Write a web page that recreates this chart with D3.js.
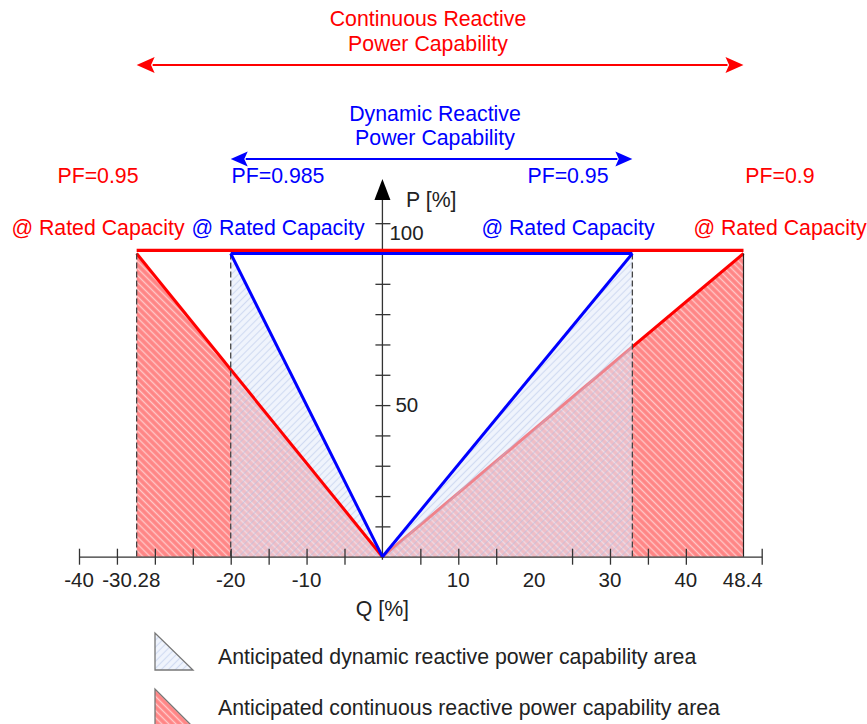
<!DOCTYPE html>
<html><head><meta charset="utf-8">
<script src="https://cdn.jsdelivr.net/npm/d3@7"></script>
<style>body{margin:0;background:#fff} text{font-family:"Liberation Sans",Arial,sans-serif}</style>
</head><body><svg id="c" width="867" height="724"></svg>
<script>
// ---- data ----
const xTicks = [-40,-35,-30,-25,-20,-15,-10,-5,5,10,15,25,30,35,40,50];
const xTickLabels = ["-40","-30.28","-20","-10","10","20","30","40","48.4"];
const xTickLabelValues = [-40,-33.1,-20,-10,10,20,30,40,47.5];
const yTicks = [10,20,30,40,50,60,70,80,90,100,110];
const yTickLabels = ["50","100"];
const yTickLabelValues = [50,110];
const ratedP = 100;
const continuousLineP = 101;
const dynamicQ = [-20, 32.95];
const continuousQ = [-32.4, 47.6];
const pfLabels = ["PF=0.95","PF=0.985","PF=0.95","PF=0.9"];
const legendLabels = ["Anticipated dynamic reactive power capability area","Anticipated continuous reactive power capability area"];

// ---- layout ----
const svg = d3.select("#c");
const x = d3.scaleLinear().domain([-40,50]).range([79,761.7]);
const y = d3.scaleLinear().domain([0,100]).range([556.7,253.5]);
const RED="#ff0000", BLUE="#0000ff", FS=21.3;
const defs = svg.append("defs");
function hatch(id, bg, stroke, sw, rot, size){
  const p = defs.append("pattern").attr("id",id).attr("patternUnits","userSpaceOnUse")
    .attr("width",size).attr("height",size).attr("patternTransform",`rotate(${rot})`);
  p.append("rect").attr("width",size).attr("height",size).attr("fill",bg);
  p.append("line").attr("x1",size/2).attr("x2",size/2).attr("y1",0).attr("y2",size)
    .attr("stroke",stroke).attr("stroke-width",sw);
}
hatch("redH","#ff8585","rgba(255,255,255,0.55)",1.4,-45,5);
hatch("blueH","rgba(228,235,250,0.55)","rgba(170,188,228,0.45)",1.2,45,5);

const tri = (q)=>[[0,0],[q,ratedP],[q,0]];
const line = d3.line().x(d=>x(d[0])).y(d=>y(d[1]));
const poly = pts => line(pts)+"Z";

// red areas
continuousQ.forEach(q=>svg.append("path").attr("d",poly(tri(q))).attr("fill","url(#redH)"));
// right red diagonal (under dynamic overlay)
svg.append("path").attr("d",line([[0,0],[continuousQ[1],ratedP]])).attr("stroke",RED).attr("stroke-width",3).attr("fill","none");
// dynamic areas
dynamicQ.forEach(q=>svg.append("path").attr("d",poly(tri(q))).attr("fill","url(#blueH)"));
// left red diagonal
svg.append("path").attr("d",line([[0,0],[continuousQ[0],ratedP]])).attr("stroke",RED).attr("stroke-width",3).attr("fill","none");

// vertical edges
[continuousQ[0],dynamicQ[0],dynamicQ[1]].forEach(q=>svg.append("line")
  .attr("x1",x(q)).attr("x2",x(q)).attr("y1",y(ratedP)).attr("y2",y(0))
  .attr("stroke","#444").attr("stroke-width",1.3).attr("stroke-dasharray","6,3"));
svg.append("line").attr("x1",x(continuousQ[1])).attr("x2",x(continuousQ[1])).attr("y1",y(ratedP)).attr("y2",y(0))
  .attr("stroke","#222").attr("stroke-width",1.2);

// axes
const xa = svg.append("g").attr("transform",`translate(0,${y(0)})`)
  .call(d3.axisBottom(x).tickValues(xTicks).tickSizeOuter(0).tickFormat(""));
xa.select(".domain").attr("stroke","#333").attr("stroke-width",1.3);
xa.selectAll(".tick line").attr("y1",-8).attr("y2",8).attr("stroke","#333").attr("stroke-width",1.3);
xa.selectAll(".lbl").data(xTickLabels).enter().append("text")
  .attr("x",(d,i)=>x(xTickLabelValues[i])).attr("y",23.5).attr("dy","0.35em")
  .attr("text-anchor","middle").attr("font-family","Liberation Sans, Arial, sans-serif")
  .attr("font-size",20.5).attr("fill","#222").text(d=>d);

const ya = svg.append("g").attr("transform",`translate(${x(0)},0)`)
  .call(d3.axisLeft(y).tickValues(yTicks).tickFormat(""));
ya.select(".domain").remove();
ya.selectAll(".tick line").attr("x1",-7).attr("x2",8).attr("stroke","#333").attr("stroke-width",1.3);
const yOff = [0,10];
const yX = [13,7];
ya.selectAll(".lbl").data(yTickLabels).enter().append("text")
  .attr("x",(d,i)=>yX[i]).attr("y",(d,i)=>y(yTickLabelValues[i])+yOff[i]).attr("dy","0.35em")
  .attr("text-anchor","start").attr("font-family","Liberation Sans, Arial, sans-serif")
  .attr("font-size",20.5).attr("fill","#222").text(d=>d);
svg.append("line").attr("x1",x(0)).attr("x2",x(0)).attr("y1",y(0)+3).attr("y2",198)
  .attr("stroke","#333").attr("stroke-width",1.3);
svg.append("path").attr("d",`M${x(0)},179L${x(0)-8},200L${x(0)+8},200Z`).attr("fill","#000");

// top capacity lines
svg.append("path").attr("d",line([[continuousQ[0],continuousLineP],[continuousQ[1],continuousLineP]]))
  .attr("stroke",RED).attr("stroke-width",3.2);
svg.append("path").attr("d",line([[dynamicQ[0],ratedP],[dynamicQ[1],ratedP]]))
  .attr("stroke",BLUE).attr("stroke-width",3.2);
// blue diagonals
dynamicQ.forEach(q=>svg.append("path").attr("d",line([[0,0],[q,ratedP]])).attr("stroke",BLUE).attr("stroke-width",3).attr("fill","none"));

// double arrows
function dblArrow(q0,q1,yy,col,len,hw){
  const a=x(q0), b=x(q1);
  svg.append("line").attr("x1",a+len-2).attr("x2",b-len+2).attr("y1",yy).attr("y2",yy).attr("stroke",col).attr("stroke-width",2.2);
  svg.append("path").attr("d",`M${a},${yy}L${a+len},${yy-hw}L${a+len*0.8},${yy}L${a+len},${yy+hw}Z`).attr("fill",col);
  svg.append("path").attr("d",`M${b},${yy}L${b-len},${yy-hw}L${b-len*0.8},${yy}L${b-len},${yy+hw}Z`).attr("fill",col);
}
dblArrow(continuousQ[0],continuousQ[1],65,RED,18,8);
dblArrow(dynamicQ[0],dynamicQ[1],159,BLUE,17,7.5);

// texts
function txt(s,xx,yy,col,anchor){
  svg.append("text").attr("x",xx).attr("y",yy).attr("dy","0.35em").attr("text-anchor",anchor||"middle")
    .attr("font-size",FS).attr("fill",col).text(s);
}
txt("Continuous Reactive",428,19,RED); txt("Power Capability",428,44,RED);
txt("Dynamic Reactive",435,114,BLUE); txt("Power Capability",435,138,BLUE);
const pfX=[98,278,568,780], pfC=[RED,BLUE,BLUE,RED];
pfLabels.forEach((s,i)=>{ txt(s,pfX[i],176,pfC[i]); txt("@ Rated Capacity",pfX[i],228,pfC[i]); });
txt("P [%]",406,200,"#222","start");
txt("Q [%]",x(0),609,"#222");

// legend
svg.append("path").attr("d","M155,633L155,670L193,670Z").attr("fill","url(#blueH)").attr("stroke","#777").attr("stroke-width",1.3);
svg.append("path").attr("d","M155,689L155,727L193,727Z").attr("fill","url(#redH)").attr("stroke","#777").attr("stroke-width",1.3);
legendLabels.forEach((s,i)=>txt(s,218,[657,708][i],"#222","start"));
</script></body></html>
